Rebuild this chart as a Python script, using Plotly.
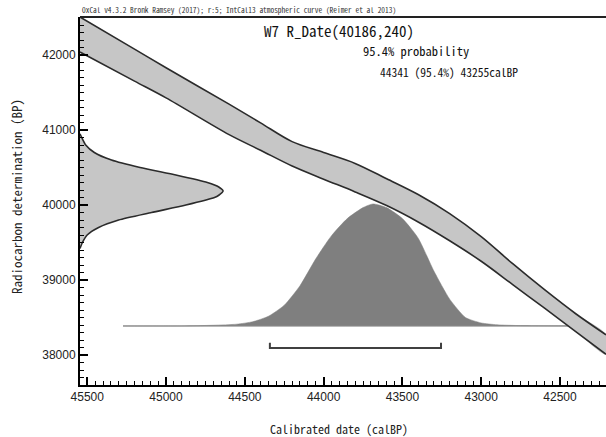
import plotly.graph_objects as go

# ---- data ----
# IntCal13 calibration band (upper / lower edges, BP) at calendar ages (calBP)
curve_cal = [45546, 45200, 45000, 44600, 44400, 44200, 44000, 43800, 43600,
             43400, 43200, 43000, 42800, 42600, 42400, 42208]
curve_upper = [42507, 42078, 41830, 41345, 41095, 40845, 40700, 40555, 40350,
               40140, 39885, 39578, 39217, 38874, 38550, 38270]
curve_lower = [42040, 41652, 41428, 40938, 40730, 40520, 40345, 40175, 39993,
               39774, 39523, 39250, 38939, 38627, 38313, 38010]

# radiocarbon determination R_Date(40186, 240): relative probability vs BP
rdate_bp = [40950, 40900, 40800, 40700, 40600, 40500, 40400, 40300, 40240, 40186,
            40130, 40100, 40000, 39900, 39800, 39700, 39600, 39500, 39420]
rdate_prob = [0, 0.012, 0.04, 0.1, 0.22, 0.42, 0.67, 0.89, 0.97, 1.0,
              0.97, 0.94, 0.74, 0.5, 0.27, 0.13, 0.05, 0.017, 0]

# calibrated (posterior) distribution: relative probability vs calBP
post_cal = [45273, 44900, 44700, 44550, 44450, 44350, 44250, 44150, 44050,
            43950, 43850, 43750, 43687, 43600, 43500, 43400, 43300, 43200,
            43100, 43000, 42900, 42750, 42450]
post_prob = [0, 0.0, 0.006, 0.015, 0.035, 0.08, 0.17, 0.33, 0.55,
             0.74, 0.88, 0.97, 1.0, 0.97, 0.88, 0.72, 0.45, 0.22,
             0.07, 0.025, 0.01, 0.003, 0]

# 95.4% range
range_from, range_to = 44341, 43255

x_ticks = [45500, 45000, 44500, 44000, 43500, 43000, 42500]
y_ticks = [38000, 39000, 40000, 41000, 42000]

# ---- plot geometry ----
X_MIN, X_MAX = 45546, 42208   # reversed calendar axis
Y_MIN, Y_MAX = 37600, 42507
RD_AMP = 908                  # width of R_Date curve in cal years
POST_BASE, POST_AMP = 38387, 1627
BRACKET_Y, BRACKET_TICK = 38093, 70

MONO = "Noto Sans Mono CJK JP, Liberation Mono, monospace"
SANS = "Liberation Sans, Arial, sans-serif"

fig = go.Figure()

# posterior distribution
px_ = post_cal + [post_cal[-1], post_cal[0]]
py_ = [POST_BASE + p * POST_AMP for p in post_prob] + [POST_BASE, POST_BASE]
fig.add_trace(go.Scatter(x=px_, y=py_, mode="lines", fill="toself",
                         fillcolor="#7f7f7f", line=dict(color="#7f7f7f", width=0.5,
                                                         shape="spline", smoothing=0.6),
                         hoverinfo="skip", showlegend=False))
fig.add_trace(go.Scatter(x=[post_cal[0], post_cal[-1]], y=[POST_BASE, POST_BASE],
                         mode="lines", line=dict(color="#8a8a8a", width=1),
                         hoverinfo="skip", showlegend=False))

# calibration band
bx = curve_cal + curve_cal[::-1]
by = curve_upper + curve_lower[::-1]
fig.add_trace(go.Scatter(x=bx, y=by, mode="lines", fill="toself",
                         fillcolor="#c6c6c6",
                         line=dict(width=0, shape="spline", smoothing=0.9),
                         hoverinfo="skip", showlegend=False))
for edge in (curve_upper, curve_lower):
    fig.add_trace(go.Scatter(x=curve_cal, y=edge, mode="lines",
                             line=dict(color="#2b2b2b", width=1.6, shape="spline",
                                       smoothing=0.9),
                             hoverinfo="skip", showlegend=False))

# R_Date distribution on the y axis
rx = [X_MIN - p * RD_AMP for p in rdate_prob]
fig.add_trace(go.Scatter(x=rx, y=rdate_bp, mode="lines", fill="toself",
                         fillcolor="#c6c6c6",
                         line=dict(color="#2b2b2b", width=1.6, shape="spline",
                                   smoothing=0.6),
                         hoverinfo="skip", showlegend=False))

# 95.4% range bracket
fig.add_trace(go.Scatter(x=[range_from, range_from, range_to, range_to],
                         y=[BRACKET_Y + BRACKET_TICK, BRACKET_Y, BRACKET_Y,
                            BRACKET_Y + BRACKET_TICK],
                         mode="lines", line=dict(color="#404040", width=2),
                         hoverinfo="skip", showlegend=False))

L, R, T, B, W, H = 80, 0, 17, 52, 606, 437
PW, PH = W - L - R, H - T - B


def px(x):
    return (x - L) / PW


def py(y):
    return (H - B - y) / PH


annots = [
    dict(text="OxCal v4.3.2 Bronk Ramsey (2017); r:5; IntCal13 atmospheric curve (Reimer et al 2013)",
         x=px(80), y=py(10), xanchor="left", yanchor="middle",
         font=dict(family=MONO, size=7.4, color="#333")),
    dict(text="W7 R_Date(40186,240)", x=px(262), y=py(31), xanchor="left",
         yanchor="middle", font=dict(family=MONO, size=15, color="#111")),
    dict(text="95.4% probability", x=px(361), y=py(51), xanchor="left",
         yanchor="middle", font=dict(family=MONO, size=12.5, color="#111")),
    dict(text="44341 (95.4%) 43255calBP", x=px(378), y=py(72), xanchor="left",
         yanchor="middle", font=dict(family=MONO, size=11.5, color="#111")),
    dict(text="Radiocarbon determination (BP)", x=px(17), y=py(197), textangle=-90,
         xanchor="center", yanchor="middle",
         font=dict(family=MONO, size=13, color="#222")),
    dict(text="Calibrated date (calBP)", x=px(339), y=py(428), xanchor="center",
         yanchor="middle", font=dict(family=MONO, size=12, color="#222")),
]
for a in annots:
    a.update(xref="paper", yref="paper", showarrow=False)

axis_common = dict(showgrid=False, zeroline=False, showline=True, linecolor="black",
                   linewidth=2, ticks="inside", ticklen=8, tickwidth=1.5,
                   tickcolor="black", tickfont=dict(family=SANS, size=12, color="#222"))

fig.update_layout(
    width=W, height=H, margin=dict(l=L, r=R, t=T, b=B),
    paper_bgcolor="white", plot_bgcolor="white",
    annotations=annots,
    shapes=[dict(type="line", xref="paper", yref="paper", x0=0, x1=1, y0=1, y1=1,
                 line=dict(color="#222", width=2))],
    xaxis=dict(range=[X_MIN, X_MAX], tickvals=x_ticks,
               ticktext=[str(v) for v in x_ticks],
               minor=dict(dtick=50, tick0=42500, ticks="inside", ticklen=4,
                          tickcolor="black", tickwidth=1),
               **axis_common),
    yaxis=dict(range=[Y_MIN, Y_MAX], tickvals=y_ticks,
               ticktext=[str(v) for v in y_ticks],
               minor=dict(dtick=100, tick0=38000, ticks="inside", ticklen=4,
                          tickcolor="black", tickwidth=1),
               **axis_common),
)

fig.write_html("out.html", config={"displayModeBar": False},
               post_script="document.body.style.margin='0';document.body.style.overflow='hidden';")
